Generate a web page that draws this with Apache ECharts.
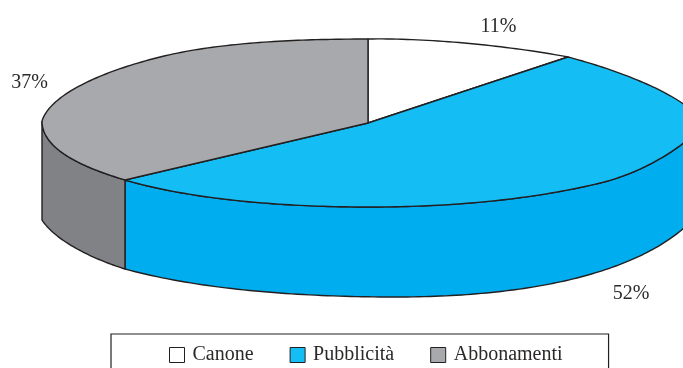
<!DOCTYPE html>
<html>
<head>
<meta charset="utf-8">
<style>html,body{margin:0;padding:0;background:#fff}#chart{width:683px;height:368px}</style>
<script src="https://cdn.jsdelivr.net/npm/echarts@6/dist/echarts.min.js"></script>
</head>
<body>
<div id="chart"></div>
<script>
// Revenue shares, in percent
const categories = ['Canone', 'Pubblicità', 'Abbonamenti'];
const shares = [11, 52, 37];
const topColors = ['#ffffff', '#14bef5', '#a7a9ac'];
const wallColors = ['#ffffff', '#00adee', '#808285'];

const ink = '#231f20';
const hub = [368, 123];
const labelAt = [[498.5, 27], [631, 294], [29.5, 83]];

// Outline of the tilted disc: Bezier pieces running clockwise from the top,
// each as [from angle, to angle, start, control, control, end]
const topRim = [
  [0, 39.6, [368, 39], [430, 38], [510, 46], [568, 57]],
  [39.6, 90, [568, 57], [625, 72], [695, 100], [702, 125]],
  [90, 135, [702, 125], [692, 140], [650, 171], [600, 183]],
  [135, 180, [600, 183], [530, 200], [450, 207], [368, 207]],
  [180, 226.8, [368, 207], [280, 207], [190, 199], [125, 180]],
  [226.8, 270, [125, 180], [85, 168], [42, 150], [42, 121]],
  [270, 315, [42, 121], [50, 95], [100, 72], [160, 57]],
  [315, 360, [160, 57], [220, 42], [300, 39], [368, 39]]
];
const lowerRim = [
  [90, 180, [705, 205], [668, 258], [570, 297], [395, 297]],
  [180, 226.8, [395, 297], [310, 297], [205, 291], [125, 269]],
  [226.8, 270, [125, 269], [90, 258], [55, 240], [42, 220]]
];

function onOutline(pieces, deg) {
  const piece = pieces.find(p => deg >= p[0] && deg <= p[1]) || pieces[pieces.length - 1];
  const u = (deg - piece[0]) / (piece[1] - piece[0]);
  const v = 1 - u;
  const w = [v * v * v, 3 * v * v * u, 3 * v * u * u, u * u * u];
  return [0, 1].map(k =>
    w[0] * piece[2][k] + w[1] * piece[3][k] + w[2] * piece[4][k] + w[3] * piece[5][k]);
}
const rim = deg => onOutline(topRim, deg);
const base = deg => onOutline(lowerRim, deg);

function arc(from, to, fn) {
  const pts = [];
  const n = Math.max(2, Math.ceil(Math.abs(to - from)));
  for (let i = 0; i <= n; i++) pts.push(fn(from + (to - from) * i / n));
  return pts;
}
const sum = shares.reduce((a, b) => a + b, 0);
function sliceAngles(i) {
  const before = shares.slice(0, i).reduce((a, b) => a + b, 0);
  const from = before / sum * 360;
  return [from, from + shares[i] / sum * 360];
}

function renderSlice(i) {
  return function (params, api) {
    const value = api.value(0);
    const [from, to] = sliceAngles(i);
    const children = [];
    // Side wall: only the part of the rim that faces the viewer
    const a = Math.max(from, 90), b = Math.min(to, 270);
    if (b > a) {
      children.push({
        type: 'polygon',
        shape: { points: arc(a, b, rim).concat(arc(b, a, base)) },
        style: { fill: wallColors[i], stroke: ink, lineWidth: 1.4 }
      });
    }
    // Top face
    children.push({
      type: 'polygon',
      shape: { points: [hub].concat(arc(from, to, rim)) },
      style: { fill: topColors[i], stroke: ink, lineWidth: 1.4, lineJoin: 'round' }
    });
    // Percent label
    children.push({
      type: 'text',
      style: {
        x: labelAt[i][0],
        y: labelAt[i][1],
        text: value + '%',
        fill: '#2b2a29',
        font: '20px "Liberation Serif"',
        align: 'center',
        verticalAlign: 'middle'
      }
    });
    return { type: 'group', children };
  };
}

const chart = echarts.init(document.getElementById('chart'), null, { renderer: 'canvas' });
chart.setOption({
  animation: false,
  backgroundColor: '#ffffff',
  legend: {
    left: 111,
    top: 334,
    orient: 'horizontal',
    data: categories,
    icon: 'rect',
    itemWidth: 15,
    itemHeight: 15,
    itemGap: 36,
    padding: [11, 46, 30, 58],
    borderColor: ink,
    borderWidth: 1.2,
    textStyle: { fontFamily: 'Liberation Serif', fontSize: 20, color: '#2b2a29', padding: [0, 0, 0, 3] },
    itemStyle: { borderColor: ink, borderWidth: 1 }
  },
  series: categories.map((name, i) => ({
    type: 'custom',
    name,
    coordinateSystem: 'none',
    itemStyle: { color: topColors[i] },
    data: [[shares[i]]],
    renderItem: renderSlice(i)
  }))
});
</script>
</body>
</html>
